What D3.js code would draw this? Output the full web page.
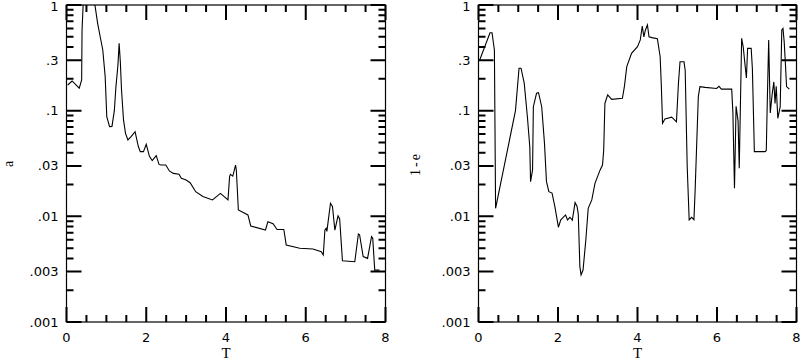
<!DOCTYPE html>
<html>
<head>
<meta charset="utf-8">
<script src="https://cdn.jsdelivr.net/npm/d3@7"></script>
<style>
  body { margin: 0; background: #fff; }
  svg { display: block; }
  .num { font-family: "DejaVu Sans", sans-serif; font-size: 13px; fill: #000; }
  .lbl { font-family: "Liberation Serif", serif; fill: #000; }
</style>
</head>
<body>
<div id="chart"></div>
<script>
// Panneau gauche : a en fonction de T
const tA = [0.03, 0.14, 0.32, 0.38, 0.39, 0.43, 0.55, 0.72, 0.78, 0.85, 0.91, 0.97, 1.01, 1.08, 1.14, 1.2,
  1.24, 1.29, 1.32, 1.35, 1.38, 1.43, 1.48, 1.54, 1.62, 1.72, 1.8, 1.85, 1.93, 2.0, 2.08, 2.15, 2.25, 2.32,
  2.37, 2.49, 2.58, 2.68, 2.82, 2.88, 3.0, 3.1, 3.24, 3.42, 3.66, 3.86, 4.05, 4.09, 4.11, 4.17, 4.24, 4.26,
  4.31, 4.55, 4.62, 4.99, 5.05, 5.18, 5.28, 5.45, 5.51, 5.85, 6.18, 6.39, 6.44, 6.48, 6.51, 6.53, 6.62,
  6.67, 6.73, 6.81, 6.85, 6.92, 7.23, 7.32, 7.35, 7.44, 7.55, 7.65, 7.68, 7.73, 7.85];
const aVals = [0.175, 0.191, 0.163, 0.195, 0.58, 1.3, 2.0, 0.96, 0.675, 0.49, 0.375, 0.21, 0.0877, 0.0706, 0.071, 0.1,
  0.169, 0.27, 0.434, 0.29, 0.157, 0.0817, 0.061, 0.0528, 0.0568, 0.0633, 0.046, 0.041, 0.041, 0.048, 0.037, 0.0337, 0.0375, 0.031,
  0.0306, 0.0306, 0.0269, 0.0255, 0.025, 0.0229, 0.0221, 0.0208, 0.0171, 0.0154, 0.0143, 0.0165, 0.0143, 0.0238, 0.025, 0.024, 0.0306, 0.027,
  0.0115, 0.0103, 0.0081, 0.00743, 0.0089, 0.0085, 0.0075, 0.0075, 0.00536, 0.00499, 0.0049, 0.00463, 0.00431, 0.0074, 0.0077, 0.0072, 0.0133,
  0.0124, 0.0074, 0.0101, 0.0095, 0.0038, 0.00372, 0.00682, 0.0067, 0.00416, 0.004, 0.00643, 0.0062, 0.0031, 0.0031];

// Panneau droit : 1-e en fonction de T
const tE = [0.03, 0.29, 0.34, 0.40, 0.43, 0.93, 1.02, 1.07, 1.15, 1.23, 1.29, 1.31, 1.36, 1.38, 1.46, 1.51, 1.59,
  1.66, 1.71, 1.77, 1.85, 1.92, 2.01, 2.07, 2.19, 2.24, 2.3, 2.36, 2.43, 2.48, 2.51, 2.55, 2.58, 2.63, 2.7,
  2.76, 2.85, 2.93, 3.06, 3.12, 3.15, 3.18, 3.25, 3.35, 3.62, 3.67, 3.73, 3.85, 4.0, 4.07, 4.12, 4.16, 4.2,
  4.25, 4.29, 4.36, 4.5, 4.57, 4.6, 4.63, 4.69, 4.86, 4.98, 5.03, 5.07, 5.17, 5.2, 5.25, 5.3, 5.36, 5.42,
  5.45, 5.53, 5.57, 5.7, 5.99, 6.05, 6.11, 6.37, 6.4, 6.44, 6.48, 6.53, 6.56, 6.62, 6.66, 6.7, 6.74, 6.77,
  6.86, 6.89, 6.94, 7.21, 7.24, 7.26, 7.3, 7.34, 7.39, 7.43, 7.46, 7.49, 7.53, 7.59, 7.63, 7.66, 7.69, 7.72,
  7.75, 7.82];
const eVals = [0.302, 0.547, 0.547, 0.375, 0.0119, 0.1, 0.252, 0.252, 0.182, 0.0877, 0.0456, 0.0213, 0.0275, 0.109, 0.146, 0.148, 0.109,
  0.049, 0.0213, 0.0171, 0.0166, 0.0124, 0.00789, 0.00925, 0.0103, 0.00925, 0.0098, 0.0092, 0.0135, 0.0124, 0.0105, 0.00334, 0.00279, 0.0031, 0.00598,
  0.0119, 0.0143, 0.0205, 0.0275, 0.0306, 0.0425, 0.117, 0.141, 0.128, 0.131, 0.169, 0.261, 0.349, 0.403, 0.467, 0.633, 0.5, 0.58,
  0.647, 0.5, 0.491, 0.48, 0.324, 0.17, 0.076, 0.0834, 0.0867, 0.0785, 0.182, 0.29, 0.29, 0.24, 0.03, 0.00925, 0.0098, 0.0093,
  0.0177, 0.136, 0.169, 0.166, 0.162, 0.17, 0.16, 0.16, 0.095, 0.0184, 0.11, 0.08, 0.0285, 0.484, 0.4, 0.283, 0.204, 0.389,
  0.39, 0.25, 0.041, 0.041, 0.042, 0.1, 0.467, 0.095, 0.146, 0.187, 0.117, 0.17, 0.0847, 0.109, 0.58, 0.6, 0.45, 0.283,
  0.169, 0.16];

// Graduations
const xMajor = [0, 2, 4, 6, 8];
const xMinor = [0.5, 1, 1.5, 2.5, 3, 3.5, 4.5, 5, 5.5, 6.5, 7, 7.5];
const yMajor = [1, 0.3, 0.1, 0.03, 0.01, 0.003, 0.001];
const yMinor = [0.002, 0.004, 0.005, 0.006, 0.007, 0.008, 0.009,
  0.02, 0.04, 0.05, 0.06, 0.07, 0.08, 0.09,
  0.2, 0.4, 0.5, 0.6, 0.7, 0.8, 0.9];

const width = 800;
const height = 362;
const yTop = 5, yBottom = 322;

const svg = d3.select("#chart").append("svg")
  .attr("width", width)
  .attr("height", height);

const fmt = d => d === 1 ? "1" : String(d).replace(/^0/, "");

function drawPanel(id, x0, x1, ts, vs, label, labelX) {
  const x = d3.scaleLinear().domain([0, 8]).range([x0, x1]);
  const y = d3.scaleLog().domain([0.001, 1]).range([yBottom, yTop]);
  const g = svg.append("g");

  // Cadre
  g.append("rect")
    .attr("x", x0).attr("y", yTop)
    .attr("width", x1 - x0).attr("height", yBottom - yTop)
    .attr("fill", "none").attr("stroke", "#000").attr("stroke-width", 1.2);

  // Graduations vers l'intérieur, sur les quatre côtés
  const p = d3.path();
  yMajor.map(v => [v, 15]).concat(yMinor.map(v => [v, 7])).forEach(([v, len]) => {
    const yy = y(v);
    p.moveTo(x0, yy); p.lineTo(x0 + len, yy);
    p.moveTo(x1, yy); p.lineTo(x1 - len, yy);
  });
  xMajor.map(v => [v, 15]).concat(xMinor.map(v => [v, 7])).forEach(([v, len]) => {
    const xx = x(v);
    p.moveTo(xx, yBottom); p.lineTo(xx, yBottom - len);
    p.moveTo(xx, yTop); p.lineTo(xx, yTop + len);
  });
  g.append("path")
    .attr("d", p.toString())
    .attr("fill", "none")
    .attr("stroke", "#000")
    .attr("stroke-width", 2);

  // étiquettes
  g.selectAll(".ylab").data(yMajor).join("text")
    .attr("class", "num")
    .attr("x", x0 - 8)
    .attr("y", d => y(d) + (d === 1 ? 1.5 : 0))
    .attr("dy", "0.35em")
    .attr("text-anchor", "end")
    .text(fmt);
  g.selectAll(".xlab").data(xMajor).join("text")
    .attr("class", "num")
    .attr("x", d => x(d))
    .attr("y", 342)
    .attr("text-anchor", "middle")
    .text(d3.format("d"));

  // Courbe
  svg.append("clipPath").attr("id", id)
    .append("rect").attr("x", x0).attr("y", yTop)
    .attr("width", x1 - x0).attr("height", yBottom - yTop);

  const line = d3.line()
    .x((d, i) => x(ts[i]))
    .y(d => y(d));

  g.append("path")
    .datum(vs)
    .attr("clip-path", `url(#${id})`)
    .attr("fill", "none")
    .attr("stroke", "#000")
    .attr("stroke-width", 1.1)
    .attr("d", line);

  // Titres des axes
  g.append("text").attr("class", "lbl")
    .attr("x", (x0 + x1) / 2).attr("y", 358)
    .attr("text-anchor", "middle")
    .style("font-size", "15px")
    .text("T");
  g.append("text").attr("class", "lbl")
    .attr("transform", `translate(${labelX},164) rotate(-90)`)
    .attr("text-anchor", "middle")
    .style("font-size", "14px")
    .style("letter-spacing", label.length > 1 ? "2px" : "0px")
    .text(label);
}

drawPanel("clipA", 66.5, 385.5, tA, aVals, "a", 13);
drawPanel("clipE", 478.5, 796.5, tE, eVals, "1-e", 420);
</script>
</body>
</html>
